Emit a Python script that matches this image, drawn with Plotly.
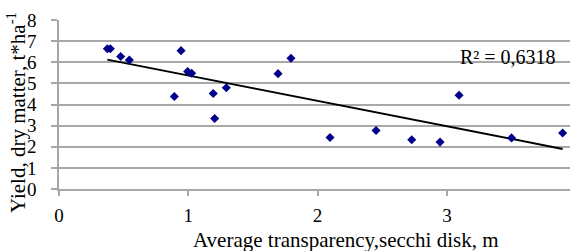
import numpy as np
import plotly.graph_objects as go

transparency = [0.374, 0.397, 0.477, 0.544, 0.944, 0.892, 0.995, 1.026, 1.193, 1.204,
                1.294, 1.694, 1.794, 2.096, 2.452, 2.728, 2.947, 3.094, 3.50, 3.895]
yield_dm = [6.64, 6.64, 6.27, 6.11, 6.55, 4.38, 5.56, 5.48, 4.52, 3.34,
            4.79, 5.46, 6.19, 2.44, 2.77, 2.33, 2.22, 4.44, 2.42, 2.65]
x_ticks = [0, 1, 2, 3]
y_ticks = [0, 1, 2, 3, 4, 5, 6, 7, 8]
r2_label = "R² = 0,6318"

slope, intercept = np.polyfit(transparency, yield_dm, 1)
trend_x = [min(transparency), max(transparency)]
trend_y = [slope * v + intercept for v in trend_x]

FONT = "Liberation Serif"
GRID = "#a8a8a8"

fig = go.Figure()
fig.add_trace(go.Scatter(x=trend_x, y=trend_y, mode="lines",
                         line=dict(color="black", width=2), showlegend=False,
                         cliponaxis=False, hoverinfo="skip"))
fig.add_trace(go.Scatter(x=transparency, y=yield_dm, mode="markers",
                         marker=dict(symbol="diamond", size=7, color="#00008B"),
                         showlegend=False, cliponaxis=False))

fig.update_layout(
    width=570, height=251,
    margin=dict(l=59, r=0, t=20, b=62, autoexpand=False),
    paper_bgcolor="white", plot_bgcolor="white",
    font=dict(family=FONT, size=19, color="black"),
    xaxis=dict(range=[0, 3.952], tickvals=x_ticks, showgrid=False, automargin=False,
               showline=True, linecolor=GRID, linewidth=1.5,
               ticks="outside", ticklen=5, tickcolor=GRID, tickwidth=1.5,
               ticklabelstandoff=3, zeroline=False,
               tickfont=dict(family=FONT, size=19, color="black")),
    yaxis=dict(range=[0, 8], tickvals=y_ticks, showgrid=True, gridcolor=GRID,
               gridwidth=1.5, showline=True, linecolor=GRID, linewidth=1.5,
               automargin=False,
               ticks="outside", ticklen=6, tickcolor=GRID, tickwidth=1.5,
               ticklabelstandoff=11, zeroline=False,
               tickfont=dict(family=FONT, size=19, color="black")),
    annotations=[
        dict(text="Average transparency,secchi disk, m", xref="paper", yref="paper",
             x=0.5626, y=-0.302, xanchor="center", yanchor="middle", showarrow=False,
             font=dict(family=FONT, size=21)),
        dict(text="Yield, dry matter, t*ha<sup>-1</sup>", xref="paper", yref="paper",
             x=-0.082, y=0.45, xanchor="center", yanchor="middle", showarrow=False,
             textangle=-90, font=dict(family=FONT, size=21)),
        dict(text=r2_label, xref="paper", yref="paper",
             x=0.878, y=0.781, xanchor="center", yanchor="middle", showarrow=False,
             font=dict(family=FONT, size=20)),
    ],
)

fig.write_html("out.html", config={"displayModeBar": False},
               post_script="document.body.style.margin='0';document.body.style.overflow='hidden';")
